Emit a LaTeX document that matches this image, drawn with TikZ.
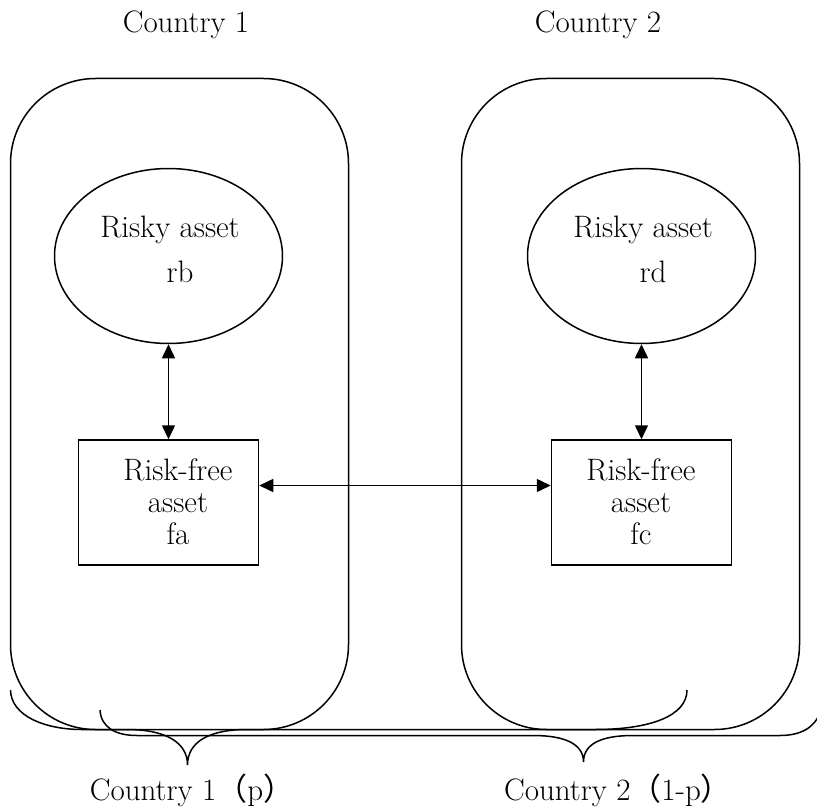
\documentclass[tikz,border=0pt]{standalone}
\usepackage{fontspec}
\newfontfamily\cjkfont{Noto Sans CJK JP}
\usetikzlibrary{shapes.geometric,arrows.meta}
\begin{document}
\begin{tikzpicture}[x=1pt,y=-1pt,
  every node/.style={font=\fontsize{31}{32}\selectfont},
  line width=1.5pt,
  region/.style={draw, rounded corners=85pt},
  riskybox/.style={draw, ellipse, minimum width=228pt, minimum height=175pt, inner sep=0pt},
  freebox/.style={draw, rectangle, minimum width=180pt, minimum height=125pt, inner sep=0pt},
  txt/.style={align=center, inner sep=0pt},
  dblarrow/.style={{Triangle[length=14pt,width=13pt]}-{Triangle[length=14pt,width=13pt]}},
  bracepath/.style={draw, line width=1.5pt}
]
\useasboundingbox (0,0) rectangle (817,808);

% top labels
\node (c1) at (186,25) {Country 1};
\node (c2) at (598,25) {Country 2};

% country regions
\draw[region] (10.5,78.5) rectangle (348.5,729.5);
\draw[region] (461.5,78.5) rectangle (799.5,729.5);

% risky assets
\node[riskybox] (e1) at (168.5,256) {};
\node[txt] (e1t) at (170,249) {Risky asset\\[13pt]\hspace*{20pt}rb};
\node[riskybox] (e2) at (641.5,256) {};
\node[txt] (e2t) at (643,249) {Risky asset\\[13pt]\hspace*{20pt}rd};

% risk-free assets
\node[freebox] (b1) at (168.5,502.5) {};
\node[txt] (b1t) at (178,502) {Risk-free\\asset\\fa};
\node[freebox] (b2) at (641.5,502.5) {};
\node[txt] (b2t) at (641,502) {Risk-free\\asset\\fc};

% arrows
\draw[dblarrow] (e1.south) -- (b1.north);
\draw[dblarrow] (e2.south) -- (b2.north);
\draw[dblarrow] ([yshift=17pt]b1.east) -- ([yshift=17pt]b2.west);

% braces
\path[bracepath] (10.5,690) .. controls (11,716) and (45,729.5) .. (82,729.5) -- (127,729.5)
  .. controls (165,729.5) and (187.5,742) .. (187.5,765)
  .. controls (187.5,742) and (209,729.5) .. (247,729.5) -- (595,729.5)
  .. controls (650,729.5) and (687,716) .. (687,690);
\path[bracepath] (100,710) .. controls (101,727) and (115,735.5) .. (137,735.5) -- (533,735.5)
  .. controls (565,735.5) and (583.5,744) .. (583.5,762)
  .. controls (583.5,744) and (601,735.5) .. (633,735.5) -- (780,735.5)
  .. controls (800,735.5) and (815,728) .. (820,712);

% bottom labels
\node (l1) at (192,790) {Country 1{\cjkfont （}p{\cjkfont ）}};
\node (l2) at (618,790) {Country 2{\cjkfont （}1-p{\cjkfont ）}};
\end{tikzpicture}
\end{document}
